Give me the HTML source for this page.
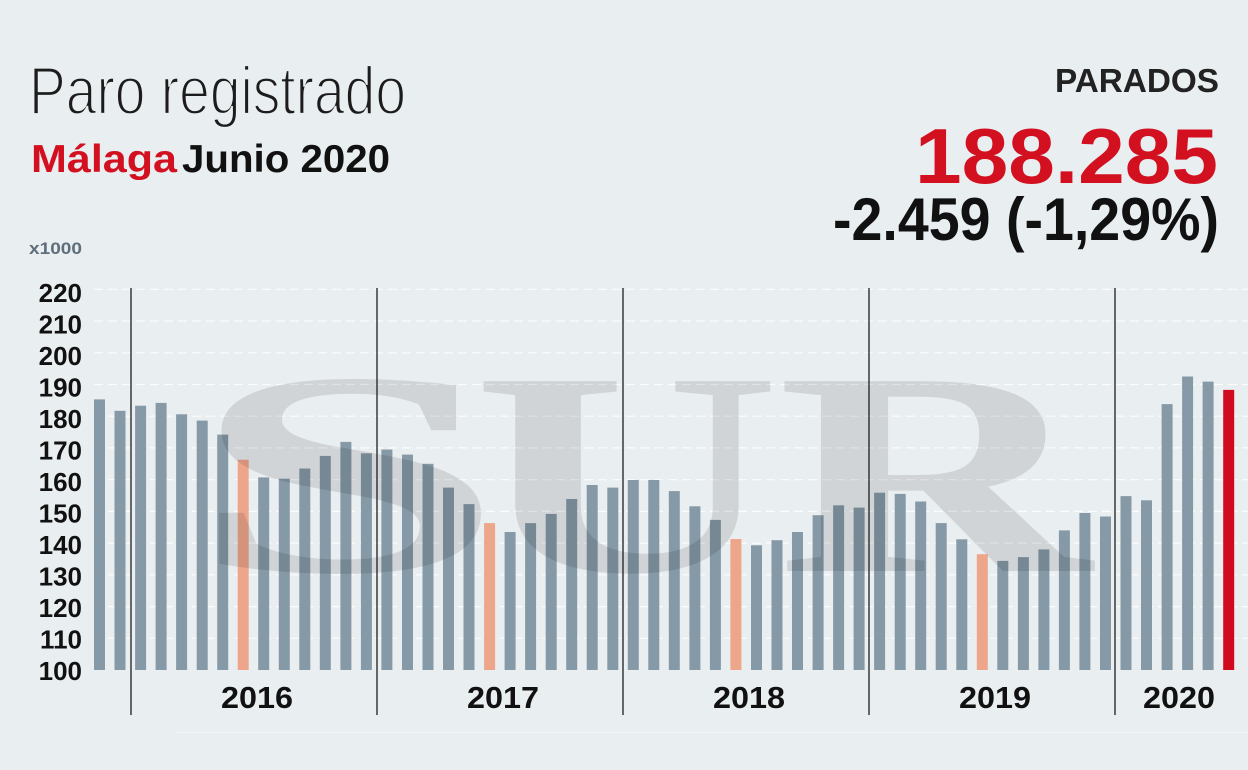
<!DOCTYPE html>
<html>
<head>
<meta charset="utf-8">
<style>
  html, body { margin:0; padding:0; background:#e9eef1; }
  body { width:1248px; height:770px; overflow:hidden; }
  svg { display:block; }
  .t { font-family:"Liberation Sans", Arial, sans-serif; }
</style>
</head>
<body>
<svg width="1248" height="770" viewBox="0 0 1248 770" xmlns="http://www.w3.org/2000/svg">
  <rect x="0" y="0" width="1248" height="770" fill="#e9eef1"/>

  <text class="t" x="29" y="114" font-size="68" fill="#1c1c1c" textLength="377" lengthAdjust="spacingAndGlyphs" stroke="#e9eef1" stroke-width="2.2">Paro registrado</text>
  <text class="t" x="31" y="172" font-size="39" font-weight="bold" fill="#d2101f" textLength="146" lengthAdjust="spacingAndGlyphs">Málaga</text>
  <text class="t" x="182" y="172" font-size="39" font-weight="bold" fill="#111" textLength="208" lengthAdjust="spacingAndGlyphs">Junio 2020</text>

  <text class="t" x="1219" y="92" font-size="33" font-weight="bold" fill="#222" text-anchor="end" textLength="164" lengthAdjust="spacingAndGlyphs">PARADOS</text>
  <text class="t" x="1218" y="183" font-size="78" font-weight="bold" fill="#d2101f" text-anchor="end" textLength="303" lengthAdjust="spacingAndGlyphs">188.285</text>
  <text class="t" x="1219" y="240" font-size="60" font-weight="bold" fill="#111" text-anchor="end" textLength="386" lengthAdjust="spacingAndGlyphs">-2.459 (-1,29%)</text>

  <text class="t" x="29" y="254" font-size="17" font-weight="bold" fill="#5f6e7a" textLength="53" lengthAdjust="spacingAndGlyphs">x1000</text>

  <g stroke="#ffffff" stroke-width="1.2" stroke-dasharray="9 5" opacity="0.85">
    <line x1="94" x2="1248" y1="638.3" y2="638.3"/>
    <line x1="94" x2="1248" y1="606.6" y2="606.6"/>
    <line x1="94" x2="1248" y1="574.8" y2="574.8"/>
    <line x1="94" x2="1248" y1="543.1" y2="543.1"/>
    <line x1="94" x2="1248" y1="511.4" y2="511.4"/>
    <line x1="94" x2="1248" y1="479.7" y2="479.7"/>
    <line x1="94" x2="1248" y1="447.9" y2="447.9"/>
    <line x1="94" x2="1248" y1="416.2" y2="416.2"/>
    <line x1="94" x2="1248" y1="384.5" y2="384.5"/>
    <line x1="94" x2="1248" y1="352.8" y2="352.8"/>
    <line x1="94" x2="1248" y1="321.0" y2="321.0"/>
    <line x1="94" x2="1248" y1="289.3" y2="289.3"/>
  </g>

  <g class="t" font-size="26" font-weight="bold" fill="#111" text-anchor="end">
    <text x="82" y="680">100</text>
    <text x="82" y="648.5">110</text>
    <text x="82" y="617">120</text>
    <text x="82" y="585.5">130</text>
    <text x="82" y="554">140</text>
    <text x="82" y="522.5">150</text>
    <text x="82" y="491">160</text>
    <text x="82" y="459.5">170</text>
    <text x="82" y="428">180</text>
    <text x="82" y="396.5">190</text>
    <text x="82" y="365">200</text>
    <text x="82" y="333.5">210</text>
    <text x="82" y="302">220</text>
  </g>

  <g fill="#8699a7">
    <rect x="94.0" y="399.4" width="11" height="270.6"/>
    <rect x="114.5" y="410.8" width="11" height="259.2"/>
    <rect x="135.1" y="405.7" width="11" height="264.3"/>
    <rect x="155.6" y="402.9" width="11" height="267.1"/>
    <rect x="176.1" y="414.3" width="11" height="255.7"/>
    <rect x="196.7" y="420.6" width="11" height="249.4"/>
    <rect x="217.2" y="434.6" width="11" height="235.4"/>
    <rect x="258.2" y="477.4" width="11" height="192.6"/>
    <rect x="278.8" y="478.7" width="11" height="191.3"/>
    <rect x="299.3" y="468.5" width="11" height="201.5"/>
    <rect x="319.8" y="455.9" width="11" height="214.1"/>
    <rect x="340.4" y="441.9" width="11" height="228.1"/>
    <rect x="360.9" y="453.3" width="11" height="216.7"/>
    <rect x="381.4" y="449.5" width="11" height="220.5"/>
    <rect x="402.0" y="454.6" width="11" height="215.4"/>
    <rect x="422.5" y="463.8" width="11" height="206.2"/>
    <rect x="443.0" y="487.6" width="11" height="182.4"/>
    <rect x="463.5" y="504.1" width="11" height="165.9"/>
    <rect x="504.6" y="532.0" width="11" height="138.0"/>
    <rect x="525.1" y="523.1" width="11" height="146.9"/>
    <rect x="545.7" y="513.9" width="11" height="156.1"/>
    <rect x="566.2" y="499.0" width="11" height="171.0"/>
    <rect x="586.7" y="485.0" width="11" height="185.0"/>
    <rect x="607.3" y="487.6" width="11" height="182.4"/>
    <rect x="627.8" y="480.0" width="11" height="190.0"/>
    <rect x="648.3" y="480.0" width="11" height="190.0"/>
    <rect x="668.8" y="491.1" width="11" height="178.9"/>
    <rect x="689.4" y="506.3" width="11" height="163.7"/>
    <rect x="709.9" y="519.9" width="11" height="150.1"/>
    <rect x="751.0" y="545.3" width="11" height="124.7"/>
    <rect x="771.5" y="540.2" width="11" height="129.8"/>
    <rect x="792.0" y="532.0" width="11" height="138.0"/>
    <rect x="812.6" y="515.2" width="11" height="154.8"/>
    <rect x="833.1" y="505.3" width="11" height="164.7"/>
    <rect x="853.6" y="507.6" width="11" height="162.4"/>
    <rect x="874.1" y="492.7" width="11" height="177.3"/>
    <rect x="894.7" y="493.9" width="11" height="176.1"/>
    <rect x="915.2" y="501.5" width="11" height="168.5"/>
    <rect x="935.7" y="523.1" width="11" height="146.9"/>
    <rect x="956.3" y="539.3" width="11" height="130.7"/>
    <rect x="997.3" y="560.9" width="11" height="109.1"/>
    <rect x="1017.9" y="557.1" width="11" height="112.9"/>
    <rect x="1038.4" y="549.4" width="11" height="120.6"/>
    <rect x="1058.9" y="530.4" width="11" height="139.6"/>
    <rect x="1079.4" y="513.0" width="11" height="157.0"/>
    <rect x="1100.0" y="516.5" width="11" height="153.5"/>
    <rect x="1120.5" y="496.1" width="11" height="173.9"/>
    <rect x="1141.0" y="500.3" width="11" height="169.7"/>
    <rect x="1161.6" y="404.1" width="11" height="265.9"/>
    <rect x="1182.1" y="376.5" width="11" height="293.5"/>
    <rect x="1202.6" y="381.6" width="11" height="288.4"/>
  </g>
  <g fill="#eda68a">
    <rect x="237.7" y="459.7" width="11" height="210.3"/>
    <rect x="484.1" y="523.1" width="11" height="146.9"/>
    <rect x="730.4" y="539.0" width="11" height="131.0"/>
    <rect x="976.8" y="554.2" width="11" height="115.8"/>
  </g>
  <rect x="1223.2" y="389.9" width="11" height="280.1" fill="#d20a1e"/>

  <g font-family="'Liberation Serif', 'Times New Roman', serif" font-weight="bold" font-size="290" fill="#000" opacity="0.1">
    <text x="0" y="0" transform="translate(189,571) scale(1.96,1)">S</text>
    <text x="0" y="0" transform="translate(473,571) scale(1.47,1)">U</text>
    <text x="0" y="0" transform="translate(777,571) scale(1.5,1)">R</text>
  </g>

  <g stroke="#1e1e1e" stroke-width="1.3">
    <line x1="131" x2="131" y1="288" y2="715"/>
    <line x1="377" x2="377" y1="288" y2="715"/>
    <line x1="623" x2="623" y1="288" y2="715"/>
    <line x1="869" x2="869" y1="288" y2="715"/>
    <line x1="1115" x2="1115" y1="288" y2="715"/>
  </g>

  <g class="t" font-size="31" font-weight="bold" fill="#111" text-anchor="middle">
    <text x="257" y="708" textLength="72" lengthAdjust="spacingAndGlyphs">2016</text>
    <text x="503" y="708" textLength="72" lengthAdjust="spacingAndGlyphs">2017</text>
    <text x="749" y="708" textLength="72" lengthAdjust="spacingAndGlyphs">2018</text>
    <text x="995" y="708" textLength="72" lengthAdjust="spacingAndGlyphs">2019</text>
    <text x="1179" y="708" textLength="72" lengthAdjust="spacingAndGlyphs">2020</text>
  </g>

  <line x1="175" x2="1248" y1="732.5" y2="732.5" stroke="#f3f6f8" stroke-width="1.2"/>
</svg>
</body>
</html>
